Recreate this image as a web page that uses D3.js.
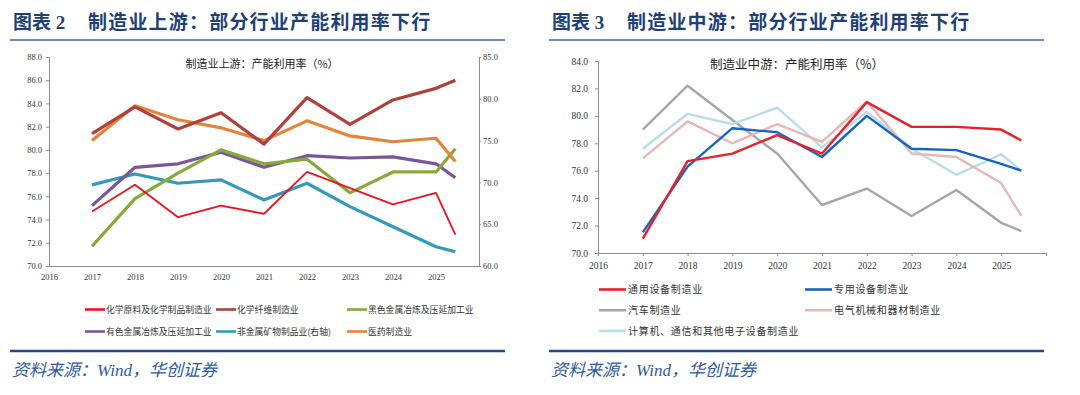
<!DOCTYPE html>
<html>
<head>
<meta charset="utf-8">
<script src="https://cdn.jsdelivr.net/npm/d3@7"></script>
<style>
  html, body { margin: 0; padding: 0; background: #fff; }
  svg { display: block; }
</style>
</head>
<body>
<svg id="c" width="1080" height="395"></svg>
<script>
// ---------------- DATA ----------------
const periods = [2017, 2018, 2019, 2020, 2021, 2022, 2023, 2024, 2025, 2025.45];
const xTickYears = [2016, 2017, 2018, 2019, 2020, 2021, 2022, 2023, 2024, 2025];

// Left chart (upstream)
const leftTicks = [70, 72, 74, 76, 78, 80, 82, 84, 86, 88];
const rightAxisTicks = [60, 65, 70, 75, 80, 85];
const upNames = ["化学原料及化学制品制造业", "化学纤维制造业", "黑色金属冶炼及压延加工业",
                 "有色金属冶炼及压延加工业", "非金属矿物制品业(右轴)", "医药制造业"];
const chemRaw     = [74.7, 77.0, 74.2, 75.2, 74.5, 78.1, 76.7, 75.3, 76.3, 72.7];
const chemFiber   = [81.4, 83.7, 81.8, 83.2, 80.5, 84.5, 82.2, 84.3, 85.3, 86.0];
const ferrous     = [71.7, 75.8, 78.0, 80.0, 78.8, 79.2, 76.3, 78.1, 78.1, 80.1];
const nonFerrous  = [75.2, 78.5, 78.8, 79.8, 78.5, 79.5, 79.3, 79.4, 78.8, 77.6];
const nonMetal    = [69.7, 71.0, 69.9, 70.3, 67.9, 69.9, 67.1, 64.7, 62.3, 61.7]; // right axis
const pharma      = [80.8, 83.8, 82.6, 81.9, 80.8, 82.5, 81.2, 80.7, 81.0, 79.0];

// Right chart (midstream)
const midTicks = [70, 72, 74, 76, 78, 80, 82, 84];
const midNames = ["通用设备制造业", "专用设备制造业", "汽车制造业", "电气机械和器材制造业",
                  "计算机、通信和其他电子设备制造业"];
const generalEq   = [71.05, 76.7, 77.25, 78.6, 77.25, 81.0, 79.2, 79.2, 79.0, 78.2];
const specialEq   = [71.5, 76.3, 79.1, 78.8, 77.0, 80.0, 77.6, 77.5, 76.5, 76.0];
const auto        = [79.0, 82.2, 79.7, 77.25, 73.5, 74.7, 72.7, 74.6, 72.2, 71.6];
const electrical  = [76.9, 79.6, 78.0, 79.4, 78.1, 81.05, 77.25, 77.0, 75.1, 72.7];
const computer    = [77.6, 80.15, 79.4, 80.6, 77.7, 80.3, 77.6, 75.7, 77.2, 76.0];

// ---------------- DRAW ----------------
const svg = d3.select("#c");
svg.append("rect").attr("width", 1080).attr("height", 395).attr("fill", "#fff");

const NUM_FONT = "'Liberation Serif','Times New Roman',serif";
const CJK_FONT = "'Noto Sans CJK SC','Noto Sans',sans-serif";
const TITLE_BLUE = "#1f3f78";

function frame(x0, x1, num, title) {
  const g = svg.append("g");
  g.append("text").attr("x", x0 + 3).attr("y", 29)
    .attr("font-family", "'Liberation Serif','Noto Sans CJK SC',serif")
    .attr("font-weight", 700).attr("font-size", 19).attr("fill", TITLE_BLUE)
    .text("图表 " + num);
  g.append("text").attr("x", x0 + 78).attr("y", 29)
    .attr("font-family", CJK_FONT).attr("font-weight", 700).attr("font-size", 19)
    .attr("letter-spacing", 1.2).attr("fill", TITLE_BLUE).text(title);
  g.append("line").attr("x1", x0).attr("x2", x1).attr("y1", 40).attr("y2", 40)
    .attr("stroke", "#3b63a3").attr("stroke-width", 1.6);
  g.append("line").attr("x1", x0).attr("x2", x1).attr("y1", 351).attr("y2", 351)
    .attr("stroke", "#1e4a8a").attr("stroke-width", 2.6);
  const src = g.append("text").attr("x", x0 + 2).attr("y", 376)
    .attr("font-size", 17).attr("font-style", "italic").attr("fill", "#2f5a9c")
    .attr("font-family", "'Liberation Serif','Noto Sans CJK SC',serif");
  src.append("tspan").attr("font-family", CJK_FONT).text("资料来源：");
  src.append("tspan").text("Wind");
  src.append("tspan").attr("font-family", CJK_FONT).text("，华创证券");
}
frame(10, 505, "2", "制造业上游：部分行业产能利用率下行");
frame(549, 1044, "3", "制造业中游：部分行业产能利用率下行");

function styleAxis(sel, fs) {
  sel.selectAll("path, line").attr("stroke", "#8c8c8c").attr("stroke-width", 1);
  sel.selectAll("text").attr("font-family", NUM_FONT).attr("font-size", fs).attr("fill", "#333");
}

// ---------- Left chart ----------
{
  const x = d3.scaleLinear().domain([2016, 2026]).range([49, 479]);
  const yL = d3.scaleLinear().domain([70, 88]).range([266, 57]);
  const yR = d3.scaleLinear().domain([60, 85]).range([266, 57]);
  const g = svg.append("g");

  g.append("g").attr("transform", "translate(0,266)")
    .call(d3.axisBottom(x).tickValues(xTickYears).tickFormat(d3.format("d")).tickSize(0).tickPadding(8))
    .call(s => styleAxis(s, 8.5));
  g.append("g").attr("transform", "translate(49,0)")
    .call(d3.axisLeft(yL).tickValues(leftTicks).tickFormat(d3.format(".1f")).tickSize(3).tickPadding(4))
    .call(s => styleAxis(s, 8.5));
  g.append("g").attr("transform", "translate(479,0)")
    .call(d3.axisRight(yR).tickValues(rightAxisTicks).tickFormat(d3.format(".1f")).tickSize(2).tickPadding(2))
    .call(s => styleAxis(s, 8.5));

  g.append("text").attr("x", 262).attr("y", 68).attr("text-anchor", "middle")
    .attr("font-family", CJK_FONT).attr("font-size", 11).attr("fill", "#222")
    .text("制造业上游：产能利用率（%）");

  const series = [
    { name: upNames[0], vals: chemRaw,    color: "#e8141f", w: 1.8, y: yL },
    { name: upNames[1], vals: chemFiber,  color: "#b0403c", w: 3.2, y: yL },
    { name: upNames[2], vals: ferrous,    color: "#87a83b", w: 3.2, y: yL },
    { name: upNames[3], vals: nonFerrous, color: "#7a559b", w: 3.2, y: yL },
    { name: upNames[4], vals: nonMetal,   color: "#3499b9", w: 3.2, y: yR },
    { name: upNames[5], vals: pharma,     color: "#e4843a", w: 3.2, y: yL },
  ];
  const drawOrder = [4, 3, 2, 0, 5, 1];
  drawOrder.forEach(i => {
    const s = series[i];
    const line = d3.line().x((d, k) => x(periods[k])).y(d => s.y(d));
    g.append("path").datum(s.vals).attr("d", line)
      .attr("fill", "none").attr("stroke", s.color).attr("stroke-width", s.w)
      .attr("stroke-linejoin", "round");
  });

  const lg = g.append("g");
  series.forEach((s, i) => {
    const col = i % 3, row = Math.floor(i / 3);
    const lx = 85 + col * 131, ly = 309.5 + row * 22;
    lg.append("line").attr("x1", lx).attr("x2", lx + 20).attr("y1", ly).attr("y2", ly)
      .attr("stroke", s.color).attr("stroke-width", 2.6);
    lg.append("text").attr("x", lx + 21).attr("y", ly + 3.2)
      .attr("font-family", CJK_FONT).attr("font-size", 8.8).attr("fill", "#333").text(s.name);
  });
}

// ---------- Right chart ----------
{
  const x = d3.scaleLinear().domain([2016, 2026]).range([598, 1046]);
  const y = d3.scaleLinear().domain([70, 84]).range([253, 61]);
  const g = svg.append("g");

  g.append("g").attr("transform", "translate(0,253)")
    .call(d3.axisBottom(x).tickValues(xTickYears.concat([2026])).tickFormat(d => d === 2026 ? "" : d3.format("d")(d)).tickSize(3).tickPadding(6))
    .call(s => styleAxis(s, 9.5));
  g.append("g").attr("transform", "translate(598,0)")
    .call(d3.axisLeft(y).tickValues(midTicks).tickFormat(d3.format(".1f")).tickSize(3).tickPadding(7))
    .call(s => styleAxis(s, 9.5));

  g.append("text").attr("x", 797).attr("y", 69).attr("text-anchor", "middle")
    .attr("font-family", CJK_FONT).attr("font-size", 12.5).attr("fill", "#222")
    .text("制造业中游：产能利用率（%）");

  const series = [
    { name: midNames[0], vals: generalEq,  color: "#e8202a" },
    { name: midNames[1], vals: specialEq,  color: "#1565c0" },
    { name: midNames[2], vals: auto,       color: "#a6a6a6" },
    { name: midNames[3], vals: electrical, color: "#e8b6b6" },
    { name: midNames[4], vals: computer,   color: "#b7dde9" },
  ];
  const drawOrder = [2, 4, 3, 1, 0];
  drawOrder.forEach(i => {
    const s = series[i];
    const line = d3.line().x((d, k) => x(periods[k])).y(d => y(d));
    g.append("path").datum(s.vals).attr("d", line)
      .attr("fill", "none").attr("stroke", s.color).attr("stroke-width", 2.4)
      .attr("stroke-linejoin", "round");
  });

  const lg = g.append("g");
  series.forEach((s, i) => {
    const col = i % 2, row = Math.floor(i / 2);
    const lx = 599 + col * 206, ly = 289.5 + row * 20.7;
    lg.append("line").attr("x1", lx).attr("x2", lx + 27).attr("y1", ly).attr("y2", ly)
      .attr("stroke", s.color).attr("stroke-width", 2.6);
    lg.append("text").attr("x", lx + 29).attr("y", ly + 3.6)
      .attr("font-family", CJK_FONT).attr("font-size", 10).attr("letter-spacing", 0.7)
      .attr("fill", "#333").text(s.name);
  });
}
</script>
</body>
</html>
